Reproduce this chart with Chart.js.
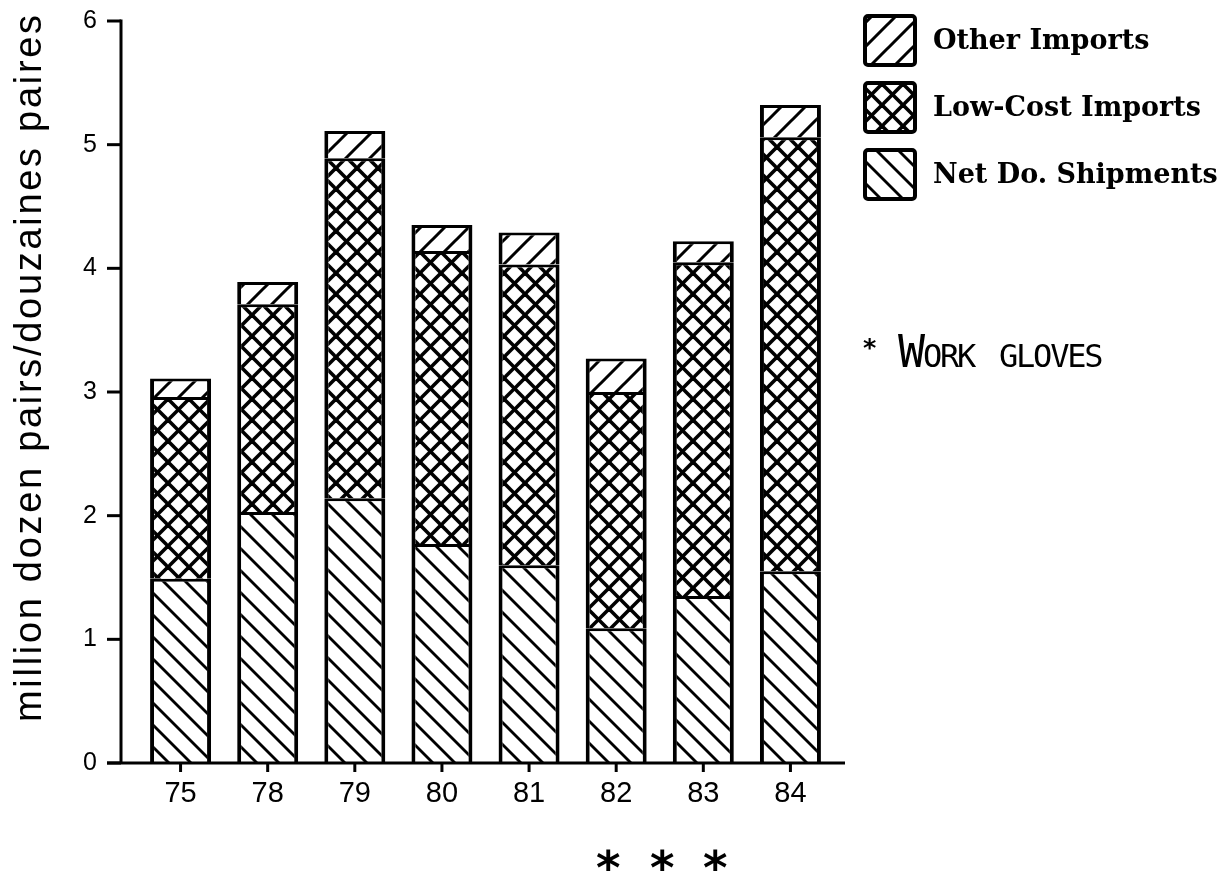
<!DOCTYPE html>
<html><head><meta charset="utf-8">
<script src="https://cdn.jsdelivr.net/npm/chart.js@4"></script>
<style>html,body{margin:0;padding:0;background:#fff}#wrap{width:1219px;height:877px}</style>
</head><body><div id="wrap"><canvas id="c" width="1219" height="877"></canvas></div>
<script>
const categories = ['75','78','79','80','81','82','83','84'];
const netDomesticShipments = [1.49, 2.03, 2.14, 1.77, 1.60, 1.09, 1.35, 1.55];
const lowCostImports = [1.47, 1.68, 2.75, 2.37, 2.43, 1.91, 2.70, 3.51];
const otherImports = [0.15, 0.18, 0.22, 0.21, 0.26, 0.27, 0.17, 0.26];
const yTicks = [0, 1, 2, 3, 4, 5, 6];
const seriesLabels = ['Other Imports', 'Low-Cost Imports', 'Net Do. Shipments'];
const yAxisTitle = 'million dozen pairs/douzaines paires';
const noteMark = '*';
const noteText = 'Work gloves';
const footMarks = ['*', '*', '*'];

function makeHatch(p, lw, dirs) {
  const c = document.createElement('canvas');
  c.width = p; c.height = p;
  const g = c.getContext('2d');
  g.fillStyle = '#fff'; g.fillRect(0, 0, p, p);
  g.strokeStyle = '#000'; g.lineWidth = lw; g.lineCap = 'square';
  dirs.forEach(d => {
    for (let k = -1; k <= 1; k++) {
      g.beginPath();
      if (d === '/') { g.moveTo(k * p, p); g.lineTo(k * p + p, 0); }
      else { g.moveTo(k * p, 0); g.lineTo(k * p + p, p); }
      g.stroke();
    }
  });
  return document.getElementById('c').getContext('2d').createPattern(c, 'repeat');
}
const patOther = makeHatch(24, 3, ['/']);
const patLow = makeHatch(21, 3.6, ['/', '\\']);
const patNet = makeHatch(22, 2.8, ['\\']);
const legendPats = [patOther, patLow, patNet];

function fitGlyph(ctx, ch, family, weight, targetH) {
  ctx.font = weight + ' 100px ' + family;
  const m = ctx.measureText(ch);
  const h = m.actualBoundingBoxAscent + m.actualBoundingBoxDescent;
  const size = 100 * targetH / h;
  ctx.font = weight + ' ' + size + 'px ' + family;
  const m2 = ctx.measureText(ch);
  return { size, asc: m2.actualBoundingBoxAscent, desc: m2.actualBoundingBoxDescent, w: m2.width,
           l: m2.actualBoundingBoxLeft, r: m2.actualBoundingBoxRight };
}

const decor = {
  id: 'decor',
  afterDraw(chart) {
    const ctx = chart.ctx, xs = chart.scales.x, ys = chart.scales.y;
    ctx.save();
    ctx.strokeStyle = '#000'; ctx.lineWidth = 3; ctx.lineCap = 'butt';
    const axX = 121;
    const y0 = ys.getPixelForValue(0), yTop = ys.getPixelForValue(6);
    ctx.beginPath(); ctx.moveTo(axX, yTop - 1.5); ctx.lineTo(axX, y0); ctx.stroke();
    yTicks.forEach(v => {
      const y = ys.getPixelForValue(v);
      ctx.beginPath(); ctx.moveTo(107, y); ctx.lineTo(axX, y); ctx.stroke();
    });
    ctx.beginPath(); ctx.moveTo(107, y0); ctx.lineTo(845, y0); ctx.stroke();
    categories.forEach((c, i) => {
      const x = xs.getPixelForValue(i);
      ctx.beginPath(); ctx.moveTo(x, y0); ctx.lineTo(x, y0 + 9); ctx.stroke();
    });

    // y title
    ctx.save();
    ctx.translate(41, 368.5);
    ctx.rotate(-Math.PI / 2);
    ctx.fillStyle = '#000';
    ctx.font = '38px "Liberation Sans"';
    const w0 = ctx.measureText(yAxisTitle).width;
    const ls = (707 - w0) / (yAxisTitle.length - 1);
    ctx.letterSpacing = ls.toFixed(2) + 'px';
    ctx.textAlign = 'left';
    ctx.textBaseline = 'alphabetic';
    ctx.fillText(yAxisTitle, -353.5, 0);
    ctx.restore();

    // legend
    ctx.font = 'bold 20px "DejaVu Serif"';
    const wRef = ctx.measureText(seriesLabels[2]).width;
    const fs = 20 * 285 / wRef;
    seriesLabels.forEach((lab, i) => {
      const bx = 865, by = 16 + i * 67, bw = 50, bh = 49;
      ctx.fillStyle = legendPats[i];
      ctx.beginPath(); ctx.roundRect(bx, by, bw, bh, 3); ctx.fill();
      ctx.lineWidth = 4; ctx.strokeStyle = '#000';
      ctx.beginPath(); ctx.roundRect(bx, by, bw, bh, 3); ctx.stroke();
      ctx.fillStyle = '#000';
      ctx.font = 'bold ' + fs + 'px "DejaVu Serif"';
      ctx.textAlign = 'left'; ctx.textBaseline = 'alphabetic';
      ctx.fillText(lab, 933, by + 33);
    });

    // note
    ctx.fillStyle = '#000';
    const g1 = fitGlyph(ctx, noteMark, '"DejaVu Sans Mono"', 'bold', 12);
    ctx.textBaseline = 'alphabetic'; ctx.textAlign = 'left';
    ctx.fillText(noteMark, 863 + g1.l, 350 - g1.desc);
    ctx.save();
    ctx.font = 'small-caps 45px "DejaVu Sans Mono"';
    ctx.letterSpacing = '-2.2px';
    ctx.fillText(noteText, 898, 367);
    ctx.restore();

    // foot marks
    const g2 = fitGlyph(ctx, '*', '"DejaVu Sans"', 'bold', 22);
    ctx.textAlign = 'left';
    [608, 662, 715].forEach((cx, i) => {
      const x = cx - (g2.r - g2.l) / 2 + g2.l;
      const y = 860 + (g2.asc - g2.desc) / 2;
      ctx.fillText(footMarks[i], x, y);
    });
    ctx.restore();
  }
};

const segStyle = { borderColor: '#000', borderWidth: { top: 3, left: 4, right: 4, bottom: 0 }, borderSkipped: false };

new Chart(document.getElementById('c'), {
  type: 'bar',
  data: {
    labels: categories,
    datasets: [
      Object.assign({ label: seriesLabels[2], data: netDomesticShipments, backgroundColor: patNet }, segStyle),
      Object.assign({ label: seriesLabels[1], data: lowCostImports, backgroundColor: patLow }, segStyle),
      Object.assign({ label: seriesLabels[0], data: otherImports, backgroundColor: patOther }, segStyle)
    ]
  },
  options: {
    responsive: false, animation: false, devicePixelRatio: 1,
    layout: { padding: { left: 0, right: 385, top: 21, bottom: 0 } },
    plugins: { legend: { display: false }, tooltip: { enabled: false } },
    datasets: { bar: { barPercentage: 0.7, categoryPercentage: 1 } },
    scales: {
      x: {
        stacked: true,
        grid: { display: false, drawTicks: false },
        border: { display: false },
        ticks: { font: { family: 'Liberation Sans', size: 29 }, color: '#000', padding: 14 },
        afterFit(s) { s.height = 114; s.paddingLeft = 0; s.paddingRight = 0; }
      },
      y: {
        stacked: true, min: 0, max: 6,
        grid: { display: false, drawTicks: false },
        border: { display: false },
        ticks: { stepSize: 1, font: { family: 'Liberation Sans', size: 25 }, color: '#000', padding: 40 },
        afterFit(s) { s.width = 137; s.paddingTop = 0; s.paddingBottom = 0; },
        afterBuildTicks(s) { s.ticks = yTicks.map(v => ({ value: v })); }
      }
    }
  },
  plugins: [decor]
});
</script>
</body></html>
